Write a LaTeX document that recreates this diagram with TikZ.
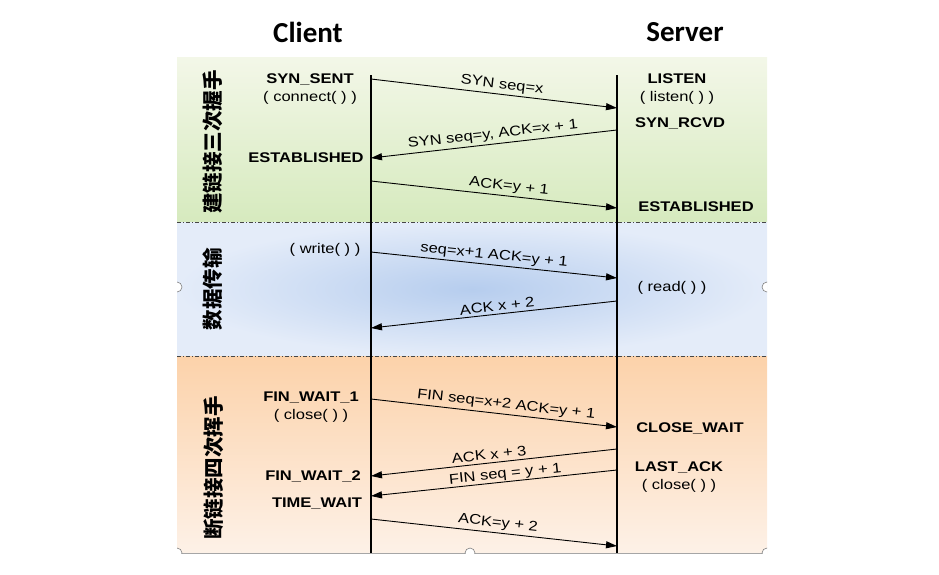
\documentclass[tikz,border=0pt]{standalone}
\usepackage{fontspec}
\setmainfont{Liberation Sans}[FakeStretch=1.18]
\newfontfamily\cjk{Noto Sans CJK SC}
\newfontfamily\titlefont{Carlito}
\usetikzlibrary{arrows.meta}
\definecolor{gtop}{RGB}{243,247,232}
\definecolor{gbot}{RGB}{214,234,190}
\definecolor{bin}{RGB}{182,205,238}
\definecolor{bout}{RGB}{228,236,249}
\definecolor{otop}{RGB}{252,210,170}
\definecolor{obot}{RGB}{253,241,231}
\definecolor{sepc}{RGB}{70,70,70}
\begin{document}
\begin{tikzpicture}[x=1pt,y=-1pt,
  state/.style={font=\fontsize{14}{18}\selectfont\bfseries, inner sep=0pt, align=center},
  call/.style={font=\fontsize{14}{18}\selectfont, inner sep=0pt},
  msg/.style={line width=0.9pt, -{Triangle[length=11pt,width=7pt]}},
  lbl/.style={font=\fontsize{14}{16}\selectfont, sloped, above, inner sep=2.5pt},
  phase/.style={font=\cjk\bfseries\fontsize{20.5}{22}\selectfont, rotate=90, inner sep=0pt},
  ttl/.style={font=\titlefont\bfseries\fontsize{29}{32}\selectfont, inner sep=0pt},
  sep/.style={sepc, line width=0.8pt, dash pattern=on 4pt off 2pt on 1pt off 2pt},
  handle/.style={draw=gray, fill=white, line width=0.6pt}
]
\useasboundingbox (0,0) rectangle (939,574);
% bands
\shade[top color=gtop, bottom color=gbot] (177,57) rectangle (767,222);
\shade[inner color=bin, outer color=bout] (177,222) rectangle (767,356);
\shade[top color=otop, bottom color=obot] (177,356) rectangle (767,553);
\draw[sep] (177,222) -- (767,222);
\draw[sep] (177,356) -- (767,356);
\draw[gray!70, line width=0.6pt] (177,553) -- (767,553);
% handles
\begin{scope}
\clip (177,57) rectangle (767,553);
\foreach \p in {(177,287),(767,287),(177,553),(470,553),(767,553)}
  \draw[handle] \p circle (5);
\end{scope}
% titles
\node[ttl] (client) at (308,32) {Client};
\node[ttl] (server) at (685,32) {Server};
% lifelines
\coordinate (ctop) at (371,75);
\coordinate (cbot) at (371,553);
\coordinate (stop) at (617,75);
\coordinate (sbot) at (617,553);
\draw[line width=1.1pt] (ctop) -- (cbot);
\draw[line width=1.1pt] (stop) -- (sbot);
% phase labels
\node[phase] (p1) at (213,142) {建链接三次握手};
\node[phase] (p2) at (213,289) {数据传输};
\node[phase] (p3) at (214,468) {断链接四次挥手};
% client states
\node[state] (synsent) at (310,89) {SYN\_SENT\\{\mdseries( connect( ) )}};
\node[state] (cest) at (306,158) {ESTABLISHED};
\node[call] (write) at (325,250) {( write( ) )};
\node[state] (fw1) at (311,407) {FIN\_WAIT\_1\\{\mdseries( close( ) )}};
\node[state] (fw2) at (313,476) {FIN\_WAIT\_2};
\node[state] (tw) at (317,504) {TIME\_WAIT};
% server states
\node[state] (listen) at (677,89) {LISTEN\\{\mdseries( listen( ) )}};
\node[state] (rcvd) at (680,123) {SYN\_RCVD};
\node[state] (sest) at (696,207) {ESTABLISHED};
\node[call] (read) at (672,288) {( read( ) )};
\node[state] (cw) at (690,428) {CLOSE\_WAIT};
\node[state] (la) at (679,477) {LAST\_ACK\\{\mdseries( close( ) )}};
% message endpoints
\coordinate (c1) at (371,79);  \coordinate (s1) at (617,108);
\coordinate (s2) at (617,130); \coordinate (c2) at (371,158);
\coordinate (c3) at (371,181); \coordinate (s3) at (617,208);
\coordinate (c4) at (371,252); \coordinate (s4) at (617,278);
\coordinate (s5) at (617,301); \coordinate (c5) at (371,328);
\coordinate (c6) at (371,399); \coordinate (s6) at (617,427);
\coordinate (s7) at (617,449); \coordinate (c7) at (371,476);
\coordinate (s8) at (617,470); \coordinate (c8) at (371,496);
\coordinate (c9) at (371,519); \coordinate (s9) at (617,546);
% messages
\draw[msg] (c1) -- node[lbl, pos=0.528] {SYN seq=x} (s1);
\draw[msg] (s2) -- node[lbl, pos=0.5] {SYN seq=y, ACK=x + 1} (c2);
\draw[msg] (c3) -- node[lbl, pos=0.557] {ACK=y + 1} (s3);
\draw[msg] (c4) -- node[lbl, pos=0.496] {seq=x+1 ACK=y + 1} (s4);
\draw[msg] (s5) -- node[lbl, pos=0.484] {ACK x + 2} (c5);
\draw[msg] (c6) -- node[lbl, pos=0.545] {FIN seq=x+2 ACK=y + 1} (s6);
\draw[msg] (s7) -- node[lbl, pos=0.516, inner sep=3pt] {ACK x + 3} (c7);
\draw[msg] (s8) -- node[lbl, pos=0.451, inner sep=0.3pt] {FIN seq = y + 1} (c8);
\draw[msg] (c9) -- node[lbl, pos=0.512] {ACK=y + 2} (s9);
\end{tikzpicture}
\end{document}
